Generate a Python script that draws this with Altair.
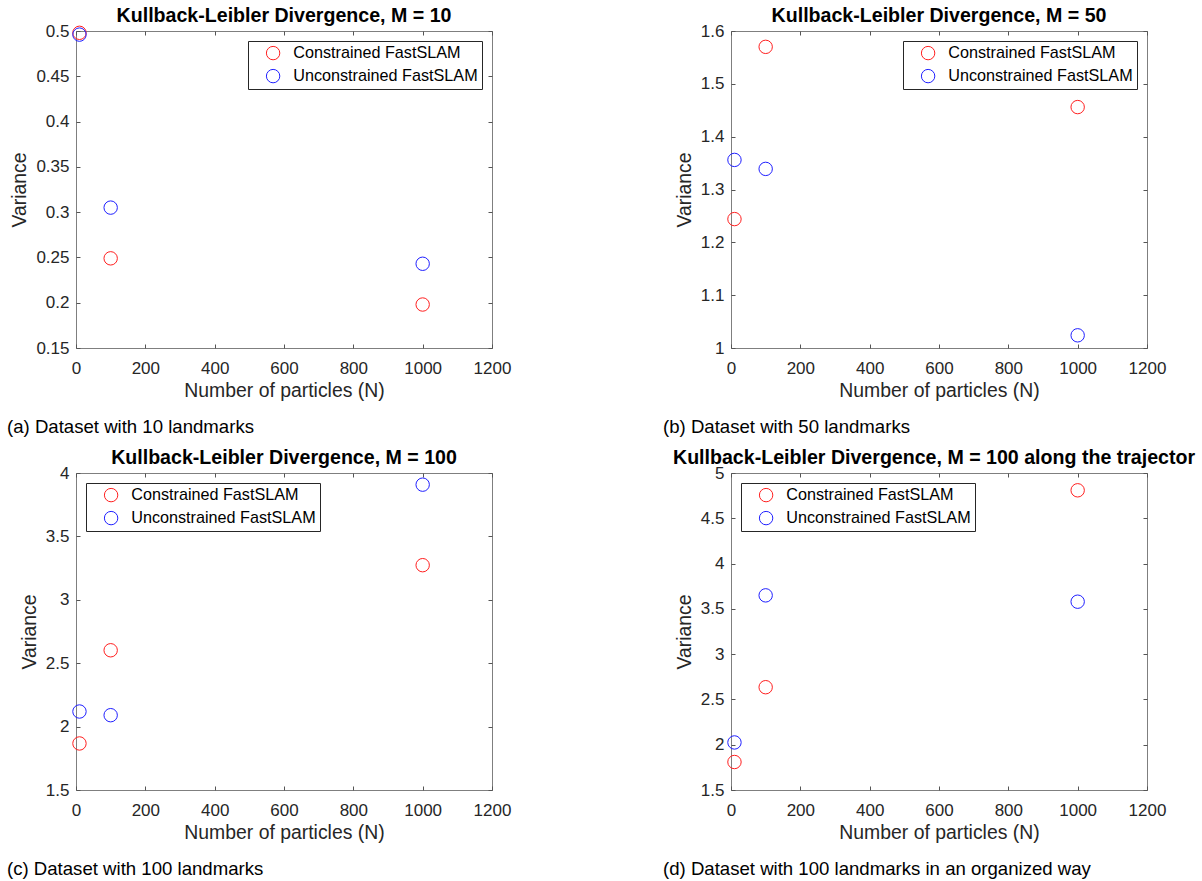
import altair as alt
import pandas as pd

FONT = "Liberation Sans"

# Particle counts on the x axis
N = [10, 100, 1000]
methods = ["Constrained FastSLAM", "Unconstrained FastSLAM"]
method_colors = ["#ff1f1f", "#1f1fff"]

# Variance of the KL divergence per panel
var_m10_con = [0.498, 0.249, 0.198]
var_m10_unc = [0.496, 0.305, 0.243]
var_m50_con = [1.244, 1.570, 1.456]
var_m50_unc = [1.356, 1.339, 1.024]
var_m100_con = [1.867, 2.602, 3.273]
var_m100_unc = [2.119, 2.090, 3.908]
var_m100t_con = [1.809, 2.635, 4.809]
var_m100t_unc = [2.025, 3.649, 3.579]

x_ticks = [0, 200, 400, 600, 800, 1000, 1200]
y_ticks_a = [0.15, 0.2, 0.25, 0.3, 0.35, 0.4, 0.45, 0.5]
y_ticks_b = [1, 1.1, 1.2, 1.3, 1.4, 1.5, 1.6]
y_ticks_c = [1.5, 2, 2.5, 3, 3.5, 4]
y_ticks_d = [1.5, 2, 2.5, 3, 3.5, 4, 4.5, 5]

titles = [
    "Kullback-Leibler Divergence, M = 10",
    "Kullback-Leibler Divergence, M = 50",
    "Kullback-Leibler Divergence, M = 100",
    "Kullback-Leibler Divergence, M = 100 along the trajectory",
]
captions = [
    "(a) Dataset with 10 landmarks",
    "(b) Dataset with 50 landmarks",
    "(c) Dataset with 100 landmarks",
    "(d) Dataset with 100 landmarks in an organized way",
]

W, H = 416, 317
TICK = 4
AX_TEXT = "#262626"


def panel(con, unc, y_ticks, title, caption, legend_orient, caption_dx,
          clip_title=False):
    df = pd.DataFrame({
        "N": N + N,
        "Variance": con + unc,
        "Method": [methods[0]] * len(N) + [methods[1]] * len(N),
    })
    xs = alt.Scale(domain=[x_ticks[0], x_ticks[-1]], nice=False, zero=False)
    ys = alt.Scale(domain=[y_ticks[0], y_ticks[-1]], nice=False, zero=False)

    common_axis = dict(grid=False, domain=False, tickSize=TICK, offset=-TICK,
                       tickColor="#555555", tickWidth=1, format="~f",
                       labelOverlap=False, labelFlush=False)

    points = alt.Chart(df).mark_point(
        shape="circle", filled=False, size=180, strokeWidth=1, opacity=1
    ).encode(
        x=alt.X("N:Q", scale=xs, axis=alt.Axis(
            orient="bottom", values=x_ticks, title="Number of particles (N)",
            labelPadding=12, titlePadding=5, **common_axis)),
        y=alt.Y("Variance:Q", scale=ys, axis=alt.Axis(
            orient="left", values=y_ticks, title="Variance",
            labelPadding=7, titlePadding=6, **common_axis)),
        color=alt.Color("Method:N", scale=alt.Scale(domain=methods, range=method_colors),
                        legend=alt.Legend(
                            title=None, orient=legend_orient, offset=10,
                            strokeColor="#262626", fillColor="white", padding=4,
                            cornerRadius=0, symbolType="circle", symbolSize=180,
                            symbolStrokeWidth=1, symbolOffset=13, labelOffset=12,
                            rowPadding=5, labelFontSize=16.2, labelFont=FONT,
                            labelColor="#000000", labelLimit=400)),
    )

    # Inward ticks on the top and right edges of the box
    mirror = alt.Chart(df).mark_point(opacity=0).encode(
        x=alt.X("N:Q", scale=xs, axis=alt.Axis(
            orient="top", values=x_ticks, labels=False, title=None, **common_axis)),
        y=alt.Y("Variance:Q", scale=ys, axis=alt.Axis(
            orient="right", values=y_ticks, labels=False, title=None, **common_axis)),
    )

    title_df = pd.DataFrame({"t": [title]})
    if clip_title:
        # long heading runs past the right edge of the figure and is cut there
        head = alt.Chart(title_df).mark_text(
            align="left", baseline="alphabetic", font=FONT, fontSize=19.6,
            fontWeight="bold", color="#000000", limit=530, ellipsis="\u200b"
        ).encode(text="t:N", x=alt.value(-58), y=alt.value(-9.5))
    else:
        head = alt.Chart(title_df).mark_text(
            align="center", baseline="alphabetic", font=FONT, fontSize=19.6,
            fontWeight="bold", color="#000000"
        ).encode(text="t:N", x=alt.value(W / 2), y=alt.value(-9.5))

    cap_df = pd.DataFrame({"t": [caption]})
    foot = alt.Chart(cap_df).mark_text(
        align="left", baseline="middle", font=FONT, fontSize=18.6, color="#000000"
    ).encode(text="t:N", x=alt.value(caption_dx), y=alt.value(H + 79))

    return alt.layer(points, mirror, head, foot).resolve_axis(
        x="independent", y="independent"
    ).properties(width=W, height=H)


pa = panel(var_m10_con, var_m10_unc, y_ticks_a, titles[0], captions[0], "top-right", -69)
pb = panel(var_m50_con, var_m50_unc, y_ticks_b, titles[1], captions[1], "top-right", -68)
pc = panel(var_m100_con, var_m100_unc, y_ticks_c, titles[2], captions[2], "top-left", -69)
pd_ = panel(var_m100t_con, var_m100t_unc, y_ticks_d, titles[3], captions[3], "top-left", -68,
            clip_title=True)

chart = alt.concat(
    pa, pb, pc, pd_, columns=2, spacing={"row": 125, "column": 239}, bounds="flush"
).resolve_scale(color="independent").resolve_legend(color="independent").properties(
    padding={"left": 6, "top": 5, "right": 0, "bottom": 0},
    background="white",
).configure_view(
    stroke="#7f7f7f", strokeWidth=1
).configure_axis(
    labelFont=FONT, labelFontSize=17, labelColor=AX_TEXT,
    titleFont=FONT, titleFontSize=19.4, titleFontWeight="normal", titleColor=AX_TEXT,
)

chart.save("out.html", embed_options={"renderer": "svg", "actions": False})
